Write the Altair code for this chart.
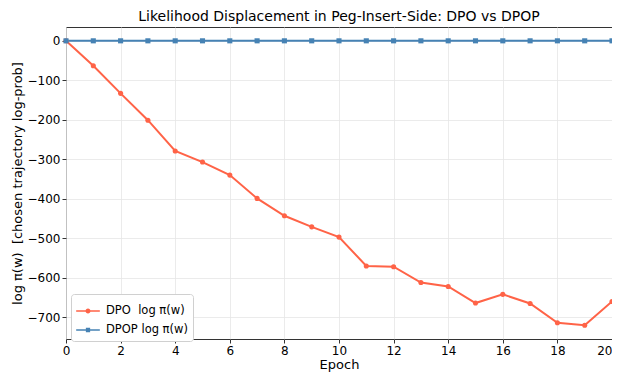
import altair as alt
import pandas as pd

epochs = list(range(21))
dpo_vals = [0, -63, -133, -201, -279, -307, -340, -399, -443, -471, -497,
            -570, -572, -612, -622, -664, -642, -665, -714, -720, -660]
dpop_vals = [0] * 21
series_names = ["DPO\u00a0 log π(w)", "DPOP log π(w)"]
series_colors = ["#FF6347", "#4682B4"]
series_shapes = ["circle", "square"]
# legend glyphs: a short line with the marker in the middle (matplotlib style)
legend_glyphs = [
    "M-1,-0.07L-0.2,-0.07L-0.2,0.07L-1,0.07Z M0.2,-0.07L1,-0.07L1,0.07L0.2,0.07Z "
    "M0.21,0 A0.21,0.21 0 1,1 -0.21,0 A0.21,0.21 0 1,1 0.21,0 Z",
    "M-1,-0.07L-0.18,-0.07L-0.18,0.07L-1,0.07Z M0.18,-0.07L1,-0.07L1,0.07L0.18,0.07Z "
    "M-0.18,-0.18L0.18,-0.18L0.18,0.18L-0.18,0.18Z",
]

rows = []
for e, v in zip(epochs, dpo_vals):
    rows.append({"Epoch": e, "value": v, "series": series_names[0]})
for e, v in zip(epochs, dpop_vals):
    rows.append({"Epoch": e, "value": v, "series": series_names[1]})
df = pd.DataFrame(rows)

x = alt.X("Epoch:Q", scale=alt.Scale(domain=[0, 20], nice=False, zero=False),
          axis=alt.Axis(values=list(range(0, 21, 2)), title="Epoch",
                        labelAlign=alt.ExprRef(expr="datum.value == 20 ? 'right' : 'center'"),
                        labelFlushOffset=0))
y = alt.Y("value:Q", scale=alt.Scale(domain=[-755, 35], nice=False, zero=False),
          axis=alt.Axis(values=list(range(-700, 1, 100)),
                        title="log π(w)\u00a0 [chosen trajectory log-prob]"))
color_scale = alt.Scale(domain=series_names, range=series_colors)

line = alt.Chart(df).mark_line(strokeWidth=2).encode(
    x=x, y=y, color=alt.Color("series:N", scale=color_scale, legend=None),
    order="Epoch:Q")
pts = alt.Chart(df).mark_point(filled=True, size=26, opacity=1).encode(
    x=x, y=y, color=alt.Color("series:N", scale=color_scale, legend=None),
    shape=alt.Shape("series:N", scale=alt.Scale(domain=series_names, range=series_shapes),
                    legend=None))

leg = alt.Legend(title=None, orient="none", legendX=5, legendY=267,
                 fillColor="white", strokeColor="#d0d0d0", padding=5,
                 cornerRadius=3, labelFontSize=11.5, labelFont="DejaVu Sans",
                 labelColor="#000000", symbolSize=560, symbolStrokeWidth=0,
                 symbolOpacity=1, rowPadding=1, labelOffset=6)
legend_layer = alt.Chart(df).transform_filter("datum.Epoch < 0").mark_point(
    filled=True, opacity=1).encode(
    x=x, y=y,
    color=alt.Color("series:N", scale=color_scale, legend=leg),
    shape=alt.Shape("series:N", scale=alt.Scale(domain=series_names, range=legend_glyphs),
                    legend=leg))

chart = alt.layer(line, pts, legend_layer).resolve_scale(
    shape="independent", color="independent").properties(
    width=546, height=312,
    title=alt.Title("Likelihood Displacement in Peg-Insert-Side: DPO vs DPOP",
                    font="DejaVu Sans", fontSize=14, fontWeight="normal",
                    color="#000000", offset=3),
    padding={"left": 58, "top": 19, "right": 0, "bottom": 36},
    autosize=alt.AutoSizeParams(type="none"),
).configure_view(stroke="#333333", strokeWidth=1
).configure_axis(
    labelFont="DejaVu Sans", titleFont="DejaVu Sans", labelFontSize=12,
    titleFontSize=13, titleFontWeight="normal", labelColor="#000000",
    titleColor="#000000", domain=False, tickColor="#333333", tickSize=4,
    gridColor="#e6e6e6", gridWidth=0.8, labelPadding=2,
).configure_axisX(titlePadding=2).configure_axisY(titlePadding=3)

chart.save("out.html", embed_options={"renderer": "svg", "actions": False})
